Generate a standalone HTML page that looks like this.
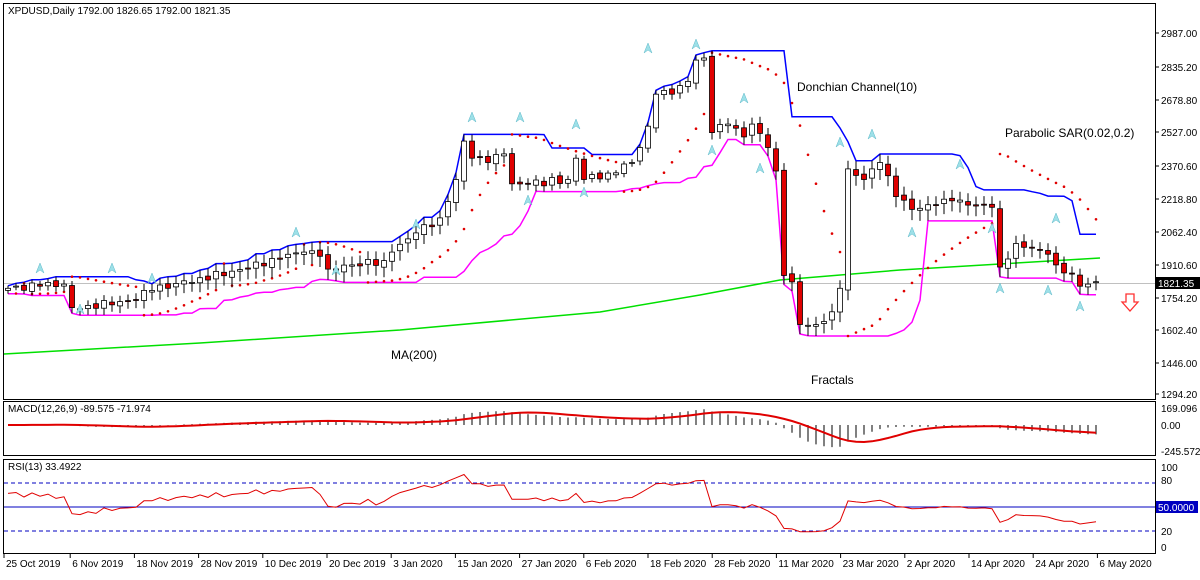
<!DOCTYPE html>
<html><head><meta charset="utf-8"><style>
body{margin:0;background:#fff;width:1200px;height:575px;overflow:hidden}
svg text{font-family:"Liberation Sans",sans-serif;font-size:10px}
</style></head><body>
<svg id="s" width="1200" height="575" xmlns="http://www.w3.org/2000/svg"></svg>
<script>
const S=document.getElementById('s');let h='';
const kp=[[0,1790],[4,1800],[7,1810],[8,1700],[10,1710],[15,1730],[18,1780],[24,1840],[30,1880],[33,1930],[37,1960],[39,1940],[40,1880],[43,1900],[47,1920],[48,1960],[51,2050],[54,2120],[56,2300],[57,2480],[58,2400],[60,2380],[62,2420],[63,2280],[65,2280],[70,2300],[71,2400],[72,2300],[75,2330],[78,2380],[79,2450],[80,2550],[81,2700],[83,2700],[85,2760],[86,2860],[87,2870],[88,2520],[90,2560],[92,2500],[93,2560],[95,2450],[96,2340],[97,1850],[98,1820],[99,1620],[101,1620],[103,1680],[104,1790],[105,2350],[107,2300],[109,2380],[111,2220],[113,2160],[116,2180],[118,2200],[120,2180],[123,2170],[124,1890],[126,2000],[128,1980],[130,1950],[131,1900],[133,1860],[134,1800],[135,1810],[136,1821]];
const N=137,C=[];
for(let i=0;i<N;i++){let k=0;while(kp[k+1]&&kp[k+1][0]<=i)k++;let a=kp[k],b=kp[k+1]||a;let p=a[0]==b[0]?a[1]:a[1]+(b[1]-a[1])*(i-a[0])/(b[0]-a[0]);
let isK=kp.some(q=>q[0]==i);C.push(p+(isK?0:Math.sin(i*2.7)*18));}
const O=[],H=[],L=[];
for(let i=0;i<N;i++){O.push(i?C[i-1]+Math.sin(i*1.3)*8:C[0]-10);let r=Math.abs(Math.sin(i*3.1))*35+15;H.push(Math.max(O[i],C[i])+r*0.8);L.push(Math.min(O[i],C[i])-r);}
const X=i=>8+i*8,Y=p=>33+(2987-p)*0.2133;
h+='<rect x="3.5" y="3.5" width="1152" height="396" fill="none" stroke="#000"/>';
h+='<rect x="3.5" y="401.5" width="1152" height="54" fill="none" stroke="#000"/>';
h+='<rect x="3.5" y="459.5" width="1152" height="94" fill="none" stroke="#000"/>';
h+='<text x="8" y="14">XPDUSD,Daily  1792.00 1826.65 1792.00 1821.35</text>';
const ax=[[2987.00,33],[2835.20,67],[2678.80,100],[2527.00,132],[2370.60,166],[2218.80,199],[2062.40,232],[1910.60,265],[1754.20,298],[1602.40,330],[1446.00,363],[1294.20,394]];
ax.forEach(a=>{h+=`<line x1="1155" x2="1159" y1="${a[1]}" y2="${a[1]}" stroke="#000"/><text x="1161" y="${a[1]+4}">${a[0].toFixed(2)}</text>`});
h+='<line x1="4" x2="1155" y1="283.5" y2="283.5" stroke="#c0c0c0"/>';
h+='<polyline fill="none" stroke="#00e000" stroke-width="1.5" points="4,354 200,343 400,330 600,312 700,295 780,280 900,270 1000,264 1100,258"/>';
let up=[],dn=[];
for(let i=0;i<N;i++){let s=Math.max(0,i-9),hi=-1e9,lo=1e9;for(let j=s;j<=i;j++){hi=Math.max(hi,H[j]);lo=Math.min(lo,L[j]);}up.push(`${X(i)},${Y(hi).toFixed(1)}`);dn.push(`${X(i)},${Y(lo).toFixed(1)}`);}
h+=`<polyline fill="none" stroke="#0000ff" stroke-width="1.5" points="${up.join(' ')}"/>`;
h+=`<polyline fill="none" stroke="#ff00ff" stroke-width="1.5" points="${dn.join(' ')}"/>`;
let bull=true,af=0.02,ep=H[0],sar=L[0];
for(let i=1;i<N;i++){sar=sar+af*(ep-sar);
 if(bull){if(L[i]<sar){bull=false;sar=ep;ep=L[i];af=0.02;}else if(H[i]>ep){ep=H[i];af=Math.min(0.2,af+0.02);}}
 else{if(H[i]>sar){bull=true;sar=ep;ep=H[i];af=0.02;}else if(L[i]<ep){ep=L[i];af=Math.min(0.2,af+0.02);}}
 h+=`<circle cx="${X(i)}" cy="${Y(sar).toFixed(1)}" r="1.3" fill="#e00000"/>`;}
for(let i=0;i<N;i++){let x=X(i),u=C[i]>=O[i];
 h+=`<line x1="${x}" x2="${x}" y1="${Y(H[i]).toFixed(1)}" y2="${Y(L[i]).toFixed(1)}" stroke="#000"/>`;
 let t=Y(Math.max(O[i],C[i])),b=Y(Math.min(O[i],C[i]));
 h+=`<rect x="${x-2.5}" y="${t.toFixed(1)}" width="5" height="${Math.max(1,b-t).toFixed(1)}" fill="${u?'#fff':'#e00000'}" stroke="#000" stroke-width="0.8"/>`;}
[[4,268],[9,309],[13,268],[18,278],[36,232],[41,270],[51,224],[58,117],[64,117],[65,200],[71,124],[72,192],[80,48],[86,44],[88,150],[92,98],[94,168],[104,142],[108,134],[113,232],[119,164],[123,228],[124,288],[130,290],[131,218],[134,306]].forEach(f=>{
 let x=X(f[0]);h+=`<path d="M${x-4},${f[1]+5} L${x},${f[1]-5} L${x+4},${f[1]+5} L${x},${f[1]+2}Z" fill="#9de0e8" stroke="#5bb8c8" stroke-width="0.5"/>`;});
h+='<text x="797" y="91" style="font-size:12px">Donchian Channel(10)</text>';
h+='<text x="1005" y="137" style="font-size:12px">Parabolic SAR(0.02,0.2)</text>';
h+='<text x="391" y="359" style="font-size:12px">MA(200)</text>';
h+='<text x="811" y="384" style="font-size:12px">Fractals</text>';
h+='<path d="M1126,294 h8 v8 h4 l-8,9 l-8,-9 h4z" fill="none" stroke="#ff3030" stroke-width="1.3"/>';
h+='<rect x="1156" y="277" width="44" height="12" fill="#000"/><text x="1158" y="287" fill="#fff">1821.35</text>';
function ema(a,n){let k=2/(n+1),r=[a[0]];for(let i=1;i<a.length;i++)r.push(a[i]*k+r[i-1]*(1-k));return r;}
let e12=ema(C,12),e26=ema(C,26),m=C.map((c,i)=>e12[i]-e26[i]);
let sig=[];for(let i=0;i<N;i++){let s=Math.max(0,i-8),t=0;for(let j=s;j<=i;j++)t+=m[j];sig.push(t/(i-s+1));}
const MY=v=>425-v*0.1;
for(let i=0;i<N;i++)h+=`<line x1="${X(i)}" x2="${X(i)}" y1="425" y2="${Math.max(403,Math.min(455,MY(m[i]))).toFixed(1)}" stroke="#000" stroke-width="1"/>`;
h+=`<polyline fill="none" stroke="#e00000" stroke-width="2" points="${sig.map((v,i)=>X(i)+','+MY(v).toFixed(1)).join(' ')}"/>`;
h+='<text x="8" y="412">MACD(12,26,9) -89.575 -71.974</text>';
h+='<text x="1161" y="412">169.096</text><text x="1161" y="429">0.00</text><text x="1161" y="455">-245.572</text>';
let ag=12,al=6,rs=[67];for(let i=1;i<N;i++){let d=C[i]-C[i-1],g=Math.max(d,0),l=Math.max(-d,0);ag=(ag*12+g)/13;al=(al*12+l)/13;rs.push(100-100/(1+ag/al));}
const RY=v=>547-v*0.8;
h+=`<line x1="4" x2="1155" y1="483" y2="483" stroke="#0000c0" stroke-dasharray="4,3"/><line x1="4" x2="1155" y1="531" y2="531" stroke="#0000c0" stroke-dasharray="4,3"/><line x1="4" x2="1155" y1="507" y2="507" stroke="#0000c0"/>`;
h+=`<polyline fill="none" stroke="#e00000" points="${rs.map((v,i)=>X(i)+','+RY(v).toFixed(1)).join(' ')}"/>`;
h+='<text x="8" y="470">RSI(13) 33.4922</text>';
h+='<text x="1161" y="471">100</text><text x="1161" y="484">80</text><text x="1161" y="535">20</text><text x="1161" y="551">0</text>';
h+='<rect x="1156" y="501" width="42" height="12" fill="#0000c0"/><text x="1158" y="511" fill="#fff">50.0000</text>';
const ds=['25 Oct 2019','6 Nov 2019','18 Nov 2019','28 Nov 2019','10 Dec 2019','20 Dec 2019','3 Jan 2020','15 Jan 2020','27 Jan 2020','6 Feb 2020','18 Feb 2020','28 Feb 2020','11 Mar 2020','23 Mar 2020','2 Apr 2020','14 Apr 2020','24 Apr 2020','6 May 2020'];
ds.forEach((d,k)=>{let x=k==0?4:6+k*64.2;h+=`<line x1="${x}" x2="${x}" y1="554" y2="558" stroke="#000"/><text x="${x+2}" y="567">${d}</text>`});
S.innerHTML=h;
</script></body></html>
